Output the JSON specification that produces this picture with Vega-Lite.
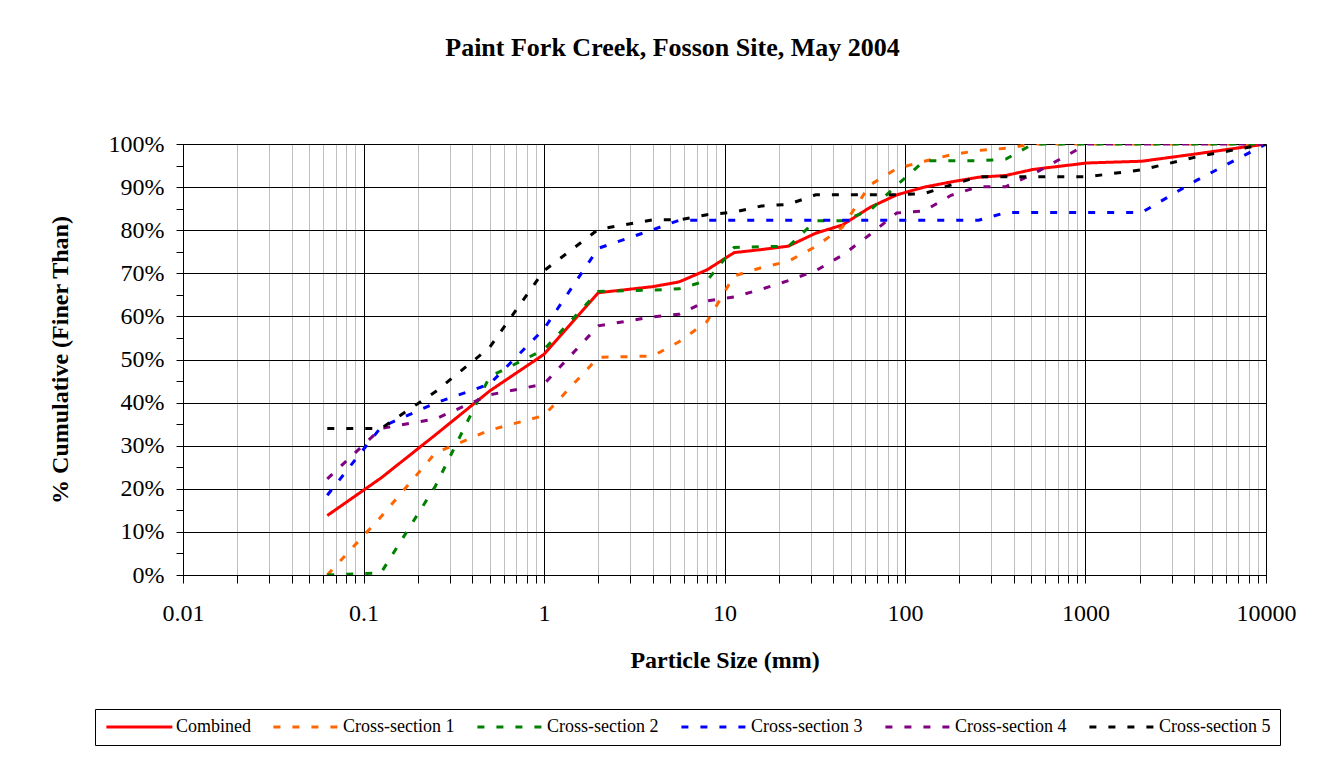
{
  "$schema": "https://vega.github.io/schema/vega-lite/v6.json",
  "width": 1083,
  "height": 431,
  "autosize": {"type": "none"},
  "padding": {"left": 183, "top": 144, "right": 61, "bottom": 183},
  "background": "white",
  "title": {
    "text": "Paint Fork Creek, Fosson Site, May 2004",
    "font": "Liberation Serif",
    "fontSize": 26,
    "fontWeight": "bold",
    "color": "black",
    "anchor": "middle",
    "dx": -52,
    "offset": 71
  },
  "datasets": {
    "psd": [
      {"series": "Combined", "size_mm": 0.063, "pct": 13.8},
      {"series": "Combined", "size_mm": 0.125, "pct": 22.5},
      {"series": "Combined", "size_mm": 0.25, "pct": 32.5},
      {"series": "Combined", "size_mm": 0.5, "pct": 42.7},
      {"series": "Combined", "size_mm": 1, "pct": 51.2},
      {"series": "Combined", "size_mm": 2, "pct": 65.5},
      {"series": "Combined", "size_mm": 4, "pct": 66.9},
      {"series": "Combined", "size_mm": 5.6, "pct": 68.0},
      {"series": "Combined", "size_mm": 8, "pct": 70.8},
      {"series": "Combined", "size_mm": 11.3, "pct": 74.8},
      {"series": "Combined", "size_mm": 16, "pct": 75.5},
      {"series": "Combined", "size_mm": 22.6, "pct": 76.3},
      {"series": "Combined", "size_mm": 32, "pct": 79.3},
      {"series": "Combined", "size_mm": 45, "pct": 81.2},
      {"series": "Combined", "size_mm": 64, "pct": 85.3},
      {"series": "Combined", "size_mm": 90, "pct": 88.2},
      {"series": "Combined", "size_mm": 128, "pct": 90.0},
      {"series": "Combined", "size_mm": 180, "pct": 91.2},
      {"series": "Combined", "size_mm": 256, "pct": 92.3},
      {"series": "Combined", "size_mm": 362, "pct": 92.7},
      {"series": "Combined", "size_mm": 512, "pct": 94.1},
      {"series": "Combined", "size_mm": 1024, "pct": 95.6},
      {"series": "Combined", "size_mm": 2048, "pct": 96.0},
      {"series": "Combined", "size_mm": 4096, "pct": 97.7},
      {"series": "Combined", "size_mm": 10000, "pct": 100},

      {"series": "Cross-section 1", "size_mm": 0.063, "pct": 0},
      {"series": "Cross-section 1", "size_mm": 0.125, "pct": 13.5},
      {"series": "Cross-section 1", "size_mm": 0.25, "pct": 28.3},
      {"series": "Cross-section 1", "size_mm": 0.5, "pct": 33.6},
      {"series": "Cross-section 1", "size_mm": 1, "pct": 37.0},
      {"series": "Cross-section 1", "size_mm": 2, "pct": 50.5},
      {"series": "Cross-section 1", "size_mm": 4, "pct": 50.8},
      {"series": "Cross-section 1", "size_mm": 5.6, "pct": 54.1},
      {"series": "Cross-section 1", "size_mm": 8, "pct": 58.8},
      {"series": "Cross-section 1", "size_mm": 11.3, "pct": 69.4},
      {"series": "Cross-section 1", "size_mm": 16, "pct": 71.3},
      {"series": "Cross-section 1", "size_mm": 22.6, "pct": 72.8},
      {"series": "Cross-section 1", "size_mm": 32, "pct": 76.2},
      {"series": "Cross-section 1", "size_mm": 45, "pct": 80.7},
      {"series": "Cross-section 1", "size_mm": 64, "pct": 90.5},
      {"series": "Cross-section 1", "size_mm": 90, "pct": 94.3},
      {"series": "Cross-section 1", "size_mm": 128, "pct": 96.0},
      {"series": "Cross-section 1", "size_mm": 180, "pct": 97.5},
      {"series": "Cross-section 1", "size_mm": 256, "pct": 98.5},
      {"series": "Cross-section 1", "size_mm": 362, "pct": 99.0},
      {"series": "Cross-section 1", "size_mm": 512, "pct": 100},
      {"series": "Cross-section 1", "size_mm": 1024, "pct": 100},
      {"series": "Cross-section 1", "size_mm": 2048, "pct": 100},
      {"series": "Cross-section 1", "size_mm": 4096, "pct": 100},
      {"series": "Cross-section 1", "size_mm": 10000, "pct": 100},

      {"series": "Cross-section 2", "size_mm": 0.063, "pct": 0},
      {"series": "Cross-section 2", "size_mm": 0.125, "pct": 0.5},
      {"series": "Cross-section 2", "size_mm": 0.25, "pct": 20.6},
      {"series": "Cross-section 2", "size_mm": 0.5, "pct": 46.0},
      {"series": "Cross-section 2", "size_mm": 1, "pct": 52.3},
      {"series": "Cross-section 2", "size_mm": 2, "pct": 65.8},
      {"series": "Cross-section 2", "size_mm": 4, "pct": 66.1},
      {"series": "Cross-section 2", "size_mm": 5.6, "pct": 66.4},
      {"series": "Cross-section 2", "size_mm": 8, "pct": 68.3},
      {"series": "Cross-section 2", "size_mm": 11.3, "pct": 76.0},
      {"series": "Cross-section 2", "size_mm": 16, "pct": 76.2},
      {"series": "Cross-section 2", "size_mm": 22.6, "pct": 76.2},
      {"series": "Cross-section 2", "size_mm": 32, "pct": 82.2},
      {"series": "Cross-section 2", "size_mm": 45, "pct": 82.2},
      {"series": "Cross-section 2", "size_mm": 64, "pct": 84.6},
      {"series": "Cross-section 2", "size_mm": 90, "pct": 90.4},
      {"series": "Cross-section 2", "size_mm": 128, "pct": 96.1},
      {"series": "Cross-section 2", "size_mm": 180, "pct": 96.1},
      {"series": "Cross-section 2", "size_mm": 256, "pct": 96.1},
      {"series": "Cross-section 2", "size_mm": 362, "pct": 96.5},
      {"series": "Cross-section 2", "size_mm": 512, "pct": 100},
      {"series": "Cross-section 2", "size_mm": 1024, "pct": 100},
      {"series": "Cross-section 2", "size_mm": 2048, "pct": 100},
      {"series": "Cross-section 2", "size_mm": 4096, "pct": 100},
      {"series": "Cross-section 2", "size_mm": 10000, "pct": 100},

      {"series": "Cross-section 3", "size_mm": 0.063, "pct": 18.5},
      {"series": "Cross-section 3", "size_mm": 0.125, "pct": 34.3},
      {"series": "Cross-section 3", "size_mm": 0.25, "pct": 39.9},
      {"series": "Cross-section 3", "size_mm": 0.5, "pct": 44.3},
      {"series": "Cross-section 3", "size_mm": 1, "pct": 57.1},
      {"series": "Cross-section 3", "size_mm": 2, "pct": 75.8},
      {"series": "Cross-section 3", "size_mm": 4, "pct": 80.1},
      {"series": "Cross-section 3", "size_mm": 5.6, "pct": 82.3},
      {"series": "Cross-section 3", "size_mm": 8, "pct": 82.3},
      {"series": "Cross-section 3", "size_mm": 11.3, "pct": 82.3},
      {"series": "Cross-section 3", "size_mm": 16, "pct": 82.3},
      {"series": "Cross-section 3", "size_mm": 22.6, "pct": 82.3},
      {"series": "Cross-section 3", "size_mm": 32, "pct": 82.3},
      {"series": "Cross-section 3", "size_mm": 45, "pct": 82.3},
      {"series": "Cross-section 3", "size_mm": 64, "pct": 82.3},
      {"series": "Cross-section 3", "size_mm": 90, "pct": 82.3},
      {"series": "Cross-section 3", "size_mm": 128, "pct": 82.3},
      {"series": "Cross-section 3", "size_mm": 180, "pct": 82.3},
      {"series": "Cross-section 3", "size_mm": 256, "pct": 82.3},
      {"series": "Cross-section 3", "size_mm": 362, "pct": 84.1},
      {"series": "Cross-section 3", "size_mm": 512, "pct": 84.1},
      {"series": "Cross-section 3", "size_mm": 1024, "pct": 84.1},
      {"series": "Cross-section 3", "size_mm": 2048, "pct": 84.1},
      {"series": "Cross-section 3", "size_mm": 4096, "pct": 91.5},
      {"series": "Cross-section 3", "size_mm": 10000, "pct": 100},

      {"series": "Cross-section 4", "size_mm": 0.063, "pct": 22.3},
      {"series": "Cross-section 4", "size_mm": 0.125, "pct": 34.0},
      {"series": "Cross-section 4", "size_mm": 0.25, "pct": 36.2},
      {"series": "Cross-section 4", "size_mm": 0.5, "pct": 41.8},
      {"series": "Cross-section 4", "size_mm": 1, "pct": 44.3},
      {"series": "Cross-section 4", "size_mm": 2, "pct": 57.8},
      {"series": "Cross-section 4", "size_mm": 4, "pct": 59.9},
      {"series": "Cross-section 4", "size_mm": 5.6, "pct": 60.5},
      {"series": "Cross-section 4", "size_mm": 8, "pct": 63.6},
      {"series": "Cross-section 4", "size_mm": 11.3, "pct": 64.5},
      {"series": "Cross-section 4", "size_mm": 16, "pct": 66.3},
      {"series": "Cross-section 4", "size_mm": 22.6, "pct": 68.3},
      {"series": "Cross-section 4", "size_mm": 32, "pct": 70.6},
      {"series": "Cross-section 4", "size_mm": 45, "pct": 74.2},
      {"series": "Cross-section 4", "size_mm": 64, "pct": 79.0},
      {"series": "Cross-section 4", "size_mm": 90, "pct": 84.0},
      {"series": "Cross-section 4", "size_mm": 128, "pct": 84.5},
      {"series": "Cross-section 4", "size_mm": 180, "pct": 88.1},
      {"series": "Cross-section 4", "size_mm": 256, "pct": 90.1},
      {"series": "Cross-section 4", "size_mm": 362, "pct": 90.1},
      {"series": "Cross-section 4", "size_mm": 512, "pct": 93.0},
      {"series": "Cross-section 4", "size_mm": 1024, "pct": 100},
      {"series": "Cross-section 4", "size_mm": 2048, "pct": 100},
      {"series": "Cross-section 4", "size_mm": 4096, "pct": 100},
      {"series": "Cross-section 4", "size_mm": 10000, "pct": 100},

      {"series": "Cross-section 5", "size_mm": 0.063, "pct": 34.0},
      {"series": "Cross-section 5", "size_mm": 0.125, "pct": 34.0},
      {"series": "Cross-section 5", "size_mm": 0.25, "pct": 42.5},
      {"series": "Cross-section 5", "size_mm": 0.5, "pct": 52.8},
      {"series": "Cross-section 5", "size_mm": 1, "pct": 70.6},
      {"series": "Cross-section 5", "size_mm": 2, "pct": 80.2},
      {"series": "Cross-section 5", "size_mm": 4, "pct": 82.4},
      {"series": "Cross-section 5", "size_mm": 5.6, "pct": 82.4},
      {"series": "Cross-section 5", "size_mm": 8, "pct": 83.6},
      {"series": "Cross-section 5", "size_mm": 11.3, "pct": 84.2},
      {"series": "Cross-section 5", "size_mm": 16, "pct": 85.6},
      {"series": "Cross-section 5", "size_mm": 22.6, "pct": 86.0},
      {"series": "Cross-section 5", "size_mm": 32, "pct": 88.2},
      {"series": "Cross-section 5", "size_mm": 45, "pct": 88.2},
      {"series": "Cross-section 5", "size_mm": 64, "pct": 88.2},
      {"series": "Cross-section 5", "size_mm": 90, "pct": 88.2},
      {"series": "Cross-section 5", "size_mm": 128, "pct": 88.5},
      {"series": "Cross-section 5", "size_mm": 180, "pct": 90.5},
      {"series": "Cross-section 5", "size_mm": 256, "pct": 92.4},
      {"series": "Cross-section 5", "size_mm": 362, "pct": 92.4},
      {"series": "Cross-section 5", "size_mm": 512, "pct": 92.4},
      {"series": "Cross-section 5", "size_mm": 1024, "pct": 92.4},
      {"series": "Cross-section 5", "size_mm": 2048, "pct": 94.0},
      {"series": "Cross-section 5", "size_mm": 4096, "pct": 97.0},
      {"series": "Cross-section 5", "size_mm": 10000, "pct": 100}
    ]
  },
  "data": {"name": "psd"},
  "mark": {"type": "line", "strokeWidth": 3, "strokeCap": "butt", "clip": true},
  "encoding": {
    "x": {
      "field": "size_mm",
      "type": "quantitative",
      "scale": {"type": "log", "domain": [0.01, 10000], "nice": false},
      "axis": {
        "title": "Particle Size (mm)",
        "values": [0.01,0.02,0.03,0.04,0.05,0.06,0.07,0.08,0.09,0.1,0.2,0.3,0.4,0.5,0.6,0.7,0.8,0.9,1,2,3,4,5,6,7,8,9,10,20,30,40,50,60,70,80,90,100,200,300,400,500,600,700,800,900,1000,2000,3000,4000,5000,6000,7000,8000,9000,10000],
        "format": "~g",
        "labelExpr": "abs(log(datum.value)/LN10 - round(log(datum.value)/LN10)) < 0.001 ? datum.label : ''",
        "gridColor": {"condition": {"test": "abs(log(datum.value)/LN10 - round(log(datum.value)/LN10)) < 0.001", "value": "#000000"}, "value": "#C0C0C0"},
        "gridWidth": 1,
        "grid": true,
        "tickColor": "black",
        "tickSize": 8,
        "domainColor": "black",
        "labelOverlap": false,
        "labelFlush": false,
        "labelBound": false,
        "labelFont": "Liberation Serif",
        "labelFontSize": 24,
        "labelColor": "black",
        "labelPadding": 18,
        "titleFont": "Liberation Serif",
        "titleFontSize": 24,
        "titleFontWeight": "bold",
        "titleColor": "black",
        "titlePadding": 23
      }
    },
    "y": {
      "field": "pct",
      "type": "quantitative",
      "scale": {"domain": [0, 100], "nice": false},
      "axis": {
        "title": "% Cumulative (Finer Than)",
        "values": [0,5,10,15,20,25,30,35,40,45,50,55,60,65,70,75,80,85,90,95,100],
        "labelExpr": "datum.value % 10 === 0 ? datum.value + '%' : ''",
        "gridOpacity": {"condition": {"test": "datum.value % 10 === 0", "value": 1}, "value": 0},
        "gridColor": "black",
        "gridWidth": 1,
        "tickColor": "black",
        "tickSize": 7,
        "domainColor": "black",
        "labelOverlap": false,
        "labelFlush": false,
        "labelFont": "Liberation Serif",
        "labelFontSize": 24,
        "labelColor": "black",
        "labelPadding": 12,
        "titleFont": "Liberation Serif",
        "titleFontSize": 24,
        "titleFontWeight": "bold",
        "titleColor": "black",
        "titlePadding": 36
      }
    },
    "color": {
      "field": "series",
      "type": "nominal",
      "sort": null,
      "scale": {
        "domain": ["Combined", "Cross-section 1", "Cross-section 2", "Cross-section 3", "Cross-section 4", "Cross-section 5"],
        "range": ["#FF0000", "#FF6600", "#008000", "#0000FF", "#800080", "#000000"]
      },
      "legend": {
        "title": null,
        "orient": "none",
        "legendX": -88,
        "legendY": 565,
        "direction": "horizontal",
        "symbolType": "M-1,0H9",
        "symbolSize": 174,
        "symbolStrokeWidth": 3,
        "labelFont": "Liberation Serif",
        "labelFontSize": 18,
        "labelColor": "black",
        "labelOffset": 54,
        "columnPadding": 16,
        "padding": 9,
        "strokeColor": "black"
      }
    },
    "strokeDash": {
      "field": "series",
      "type": "nominal",
      "sort": null,
      "scale": {
        "domain": ["Combined", "Cross-section 1", "Cross-section 2", "Cross-section 3", "Cross-section 4", "Cross-section 5"],
        "range": [[1, 0], [7, 12], [7, 12], [7, 12], [7, 12], [7, 12]]
      },
      "legend": {
        "title": null,
        "orient": "none",
        "legendX": -88,
        "legendY": 565,
        "direction": "horizontal",
        "symbolType": "M-1,0H9",
        "symbolSize": 174,
        "symbolStrokeWidth": 3,
        "labelFont": "Liberation Serif",
        "labelFontSize": 18,
        "labelColor": "black",
        "labelOffset": 54,
        "columnPadding": 16,
        "padding": 9,
        "strokeColor": "black"
      }
    }
  },
  "config": {
    "view": {"stroke": "#808080", "strokeWidth": 1},
    "axis": {"domainWidth": 1, "tickWidth": 1}
  }
}
